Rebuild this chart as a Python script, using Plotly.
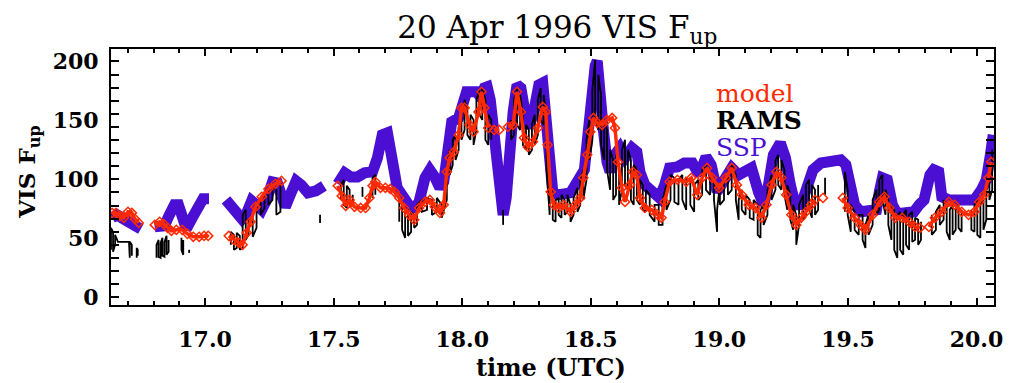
import plotly.graph_objects as go

# ---------------- data ----------------
# SSP (thick purple line); None marks a data gap
ssp_t = [16.638, 16.657, 16.688, 16.723, 16.750, None,
         16.804, 16.842, 16.861, 16.881, 16.896, 16.911, 16.927, 16.950, 16.973, 16.992, 17.015, None,
         17.081, 17.112, 17.143, 17.162, 17.181, 17.200, 17.220, 17.239, 17.262, 17.281, 17.296, 17.312,
         17.331, 17.354, 17.374, 17.400, 17.431, 17.462, None,
         17.516, 17.543, 17.566, 17.593, 17.620, 17.651, 17.670, 17.689, 17.709, 17.720, 17.736, 17.747,
         17.774, 17.797, 17.816, 17.832, 17.855, 17.874, 17.893, 17.913, 17.928, 17.947, 17.959, 17.986,
         18.005, 18.017, 18.055, 18.071, 18.086, 18.097, 18.109, 18.121, 18.132, 18.144, 18.159, 18.171,
         18.182, 18.198, 18.213, 18.228, 18.248, 18.259, 18.278, 18.298, 18.313, 18.325, 18.336, 18.352,
         18.371, 18.394, 18.421, 18.440, 18.459, 18.475, 18.490, 18.506, 18.517, 18.525, 18.537, 18.548,
         18.563, 18.575, 18.594, 18.613, 18.633, 18.660, 18.679, 18.691, 18.710, 18.737, 18.767, 18.787,
         18.806, 18.837, 18.864, 18.895, 18.922, 18.948, 18.968, 18.991, 19.025, 19.048, 19.075, 19.102,
         19.125, 19.152, 19.172, 19.191, 19.210, 19.237, 19.257, 19.276, 19.295, 19.318, 19.337, 19.364,
         19.395, 19.434, 19.472, 19.492, 19.507, 19.526, 19.549, 19.588, 19.611, 19.622, 19.634, 19.653,
         19.673, 19.692, 19.723, 19.757, 19.777, 19.796, 19.819, 19.834, 19.853, 19.865, 19.892, 19.942,
         19.992, 20.019, 20.038, 20.054, 20.065]
ssp_v = [67.4, 70.0, 65.7, 60.6, 58.0, None,
         59.7, 60.6, 69.9, 78.4, 78.4, 67.4, 58.1, 67.4, 78.4, 83.5, 83.5, None,
         82.6, 74.2, 66.5, 71.6, 81.8, 78.4, 74.2, 82.6, 97.9, 97.0, 86.9, 76.7,
         86.9, 98.7, 95.3, 88.6, 90.3, 94.5, None,
         96.2, 105.5, 102.1, 102.1, 105.5, 106.4, 118.2, 137.7, 139.4, 129.2, 106.4, 92.8,
         84.3, 76.7, 75.8, 80.9, 101.3, 108.1, 102.1, 92.8, 97.9, 129.2, 148.7, 152.1,
         169.1, 174.2, 174.2, 169.9, 177.5, 178.4, 167.4, 143.6, 106.4, 78.4, 69.9, 84.3,
         120.8, 157.2, 180.1, 177.5, 152.1, 143.6, 157.2, 180.1, 181.8, 157.2, 114.8, 89.4,
         86.9, 86.9, 88.6, 95.3, 103.0, 108.1, 140.3, 180.1, 196.2, 200.4, 180.1, 143.6,
         114.8, 106.4, 120.8, 126.7, 118.2, 126.7, 123.3, 106.4, 95.3, 89.4, 84.3, 95.3,
         109.7, 110.6, 113.9, 113.9, 103.8, 119.1, 112.3, 89.4, 101.3, 109.7, 103.8, 106.4,
         109.7, 89.4, 78.4, 95.3, 120.8, 130.9, 118.2, 95.3, 78.4, 78.4, 92.8, 108.1,
         113.9, 114.8, 116.5, 112.3, 95.3, 78.4, 72.5, 73.3, 74.2, 89.4, 101.3, 99.6,
         78.4, 70.8, 72.5, 72.5, 78.4, 82.6, 103.8, 108.1, 106.4, 85.2, 82.6, 82.6,
         82.6, 91.1, 99.6, 120.8, 137.7]

# model (red diamonds)
model_t = [16.638, 16.653, 16.669, 16.684, 16.700, 16.715, 16.727, 16.742, None,
           16.804, 16.823, 16.838, 16.854, 16.869, 16.888, 16.911, 16.931, 16.954, 16.977, 16.996, 17.012, None,
           17.092, 17.112, 17.131, 17.146, 17.162, 17.177, 17.196, 17.220, 17.246, 17.273, 17.297, None,
           17.516, 17.531, 17.547, 17.562, 17.581, 17.605, 17.624, 17.639, 17.651, 17.662, 17.682, 17.701,
           17.720, 17.736, 17.755, 17.774, 17.793, 17.813, 17.832, 17.855, 17.874, 17.893, 17.913, 17.928,
           17.940, 17.951, 17.967, 17.986, 17.997, 18.009, 18.028, 18.044, 18.063, 18.075, 18.086, 18.101, None,
           18.124, 18.144, None,
           18.178, 18.198, 18.213, 18.228, 18.240, 18.255, 18.275, 18.294, 18.313, 18.325, 18.332, 18.344,
           18.356, 18.375, 18.394, 18.421, 18.440, 18.459, 18.471, 18.486, 18.498, 18.510, 18.525, 18.544,
           18.563, 18.583, 18.594, 18.606, 18.621, 18.633, 18.652, 18.663, 18.679, 18.691, 18.710, 18.737,
           18.760, 18.775, 18.787, 18.806, 18.837, 18.871, 18.891, 18.914, 18.933, 18.952, 18.972, 18.999,
           19.025, 19.048, 19.068, 19.087, 19.114, 19.141, 19.164, 19.183, 19.203, 19.222, 19.241, 19.260,
           19.280, 19.299, 19.318, 19.337, 19.357, 19.372, None,
           19.403, None,
           19.480, 19.499, 19.526, 19.549, 19.568, 19.596, 19.622, 19.642, 19.661, 19.684, 19.711, 19.738,
           19.761, 19.780, None,
           19.815, 19.838, 19.865, 19.892, 19.915, 19.942, 19.969, 19.992, 20.011, 20.030, 20.046, 20.057]
model_v = [71.6, 71.6, 69.1, 67.4, 72.5, 71.6, 66.5, 63.1, None,
           61.4, 64.0, 62.3, 58.9, 56.4, 57.2, 57.2, 53.8, 51.3, 51.3, 52.1, 52.1, None,
           52.1, 48.7, 46.2, 44.5, 54.7, 64.0, 76.7, 85.2, 91.9, 96.2, 98.7, None,
           94.5, 86.0, 77.5, 82.6, 76.7, 75.8, 75.8, 84.3, 94.5, 97.9, 92.8, 92.8,
           91.9, 89.4, 84.3, 75.8, 69.9, 65.7, 75.8, 80.9, 82.6, 76.7, 71.6, 78.4,
           106.4, 118.2, 123.3, 137.7, 160.6, 160.6, 146.2, 140.3, 157.2, 174.2, 160.6, 143.6, None,
           141.9, 141.9, None,
           144.5, 146.2, 174.2, 157.2, 135.2, 127.5, 131.8, 143.6, 161.4, 157.2, 129.2, 89.4,
           78.4, 75.8, 78.4, 72.5, 78.4, 84.3, 101.3, 120.8, 140.3, 152.1, 147.9, 146.2,
           150.4, 152.1, 143.6, 114.8, 92.8, 80.9, 95.3, 106.4, 103.8, 84.3, 75.8, 74.2,
           69.9, 67.4, 80.9, 97.9, 99.6, 97.9, 101.3, 86.9, 101.3, 109.7, 101.3, 92.8,
           101.3, 109.7, 95.3, 86.9, 78.4, 75.8, 67.4, 78.4, 95.3, 106.4, 101.3, 86.9,
           69.9, 61.4, 67.4, 72.5, 78.4, 82.6, None,
           84.3, None,
           84.3, 75.8, 67.4, 61.4, 57.2, 69.9, 80.9, 85.2, 75.8, 67.4, 67.4, 64.0,
           59.7, 58.9, None,
           59.7, 67.4, 72.5, 80.9, 78.4, 72.5, 69.9, 72.5, 80.9, 86.9, 101.3, 114.8]

# RAMS (black, noisy): time, low and high of each vertical excursion; None = gap
rams_t = [16.634, 16.642, 16.650, 16.661, 16.684, 16.704, 16.707, 16.715, None,
          16.734, 16.738, None,
          16.811, 16.819, 16.827, 16.834, 16.842, 16.850, 16.858, None,
          16.908, 16.915, None, 16.938, None,
          17.100, 17.112, 17.123, 17.135, 17.146, 17.158, 17.169, 17.185, 17.200, 17.216, 17.231, 17.246,
          17.262, 17.277, 17.293, None, 17.447, None,
          17.528, 17.539, 17.551, 17.562, 17.574, None, 17.612, None, 17.651, 17.662, None,
          17.755, 17.766, 17.778, 17.789, 17.801, 17.813, 17.824, 17.843, 17.863, 17.882, 17.901, 17.920,
          17.940, 17.951, 17.963, 17.974, 17.986, 17.997, 18.009, 18.020, 18.032, 18.044, 18.055, 18.067,
          18.078, 18.090, 18.101, 18.113, None, 18.159, None,
          18.190, 18.201, 18.213, 18.225, 18.236, 18.248, 18.259, 18.271, 18.282, 18.294, 18.305, 18.317,
          18.328, 18.340, 18.352, 18.363, 18.375, 18.386, 18.398, 18.409, 18.421, 18.433, 18.448, 18.459,
          18.471, 18.483, 18.494, 18.506, 18.517, 18.529, 18.540, 18.552, 18.563, 18.575, 18.587, 18.598,
          18.610, 18.621, 18.633, 18.644, 18.656, 18.667, 18.679, 18.691, 18.702, 18.714, 18.729, 18.748,
          18.764, 18.779, 18.794, 18.810, 18.825, 18.841, 18.856, 18.871, 18.887, 18.902, 18.918, 18.933,
          18.948, 18.964, 18.979, 18.991, 19.002, 19.018, 19.033, 19.048, 19.064, 19.075, 19.087, 19.102,
          19.118, 19.133, 19.149, 19.160, 19.172, 19.187, 19.203, 19.218, 19.229, 19.241, 19.253, 19.264,
          19.276, 19.287, 19.299, 19.310, 19.326, 19.337, 19.349, 19.360, 19.372, 19.384, None,
          19.411, None,
          19.488, 19.499, 19.511, 19.526, 19.542, 19.557, 19.568, 19.580, 19.596, 19.611, 19.622, 19.634,
          19.646, 19.657, 19.669, 19.680, 19.692, 19.703, 19.715, 19.726, 19.738, 19.750, 19.761, 19.773,
          19.784, None,
          19.826, 19.842, 19.857, 19.872, 19.884, 19.896, 19.907, 19.919, 19.930, 19.942, None,
          19.980, 19.992, 20.003, 20.015, 20.027, 20.038, 20.050, 20.061]
rams_lo = [40.3, 38.6, 44.5, 47.0, 47.0, 47.0, 33.5, 35.2, None,
           33.5, 35.2, None,
           33.5, 34.3, 33.5, 35.2, 34.3, 36.0, 38.6, None,
           40.3, 36.0, None, 37.7, None,
           44.5, 40.3, 41.9, 40.3, 41.9, 48.7, 53.0, 51.3, 58.9, 69.9, 75.8, 78.4,
           82.6, 69.9, 72.5, None, 63.1, None,
           82.6, 78.4, 75.8, 76.7, 78.4, None, 85.2, None, 84.3, 86.9, None,
           64.0, 57.2, 50.4, 52.1, 55.5, 58.9, 61.4, 72.5, 74.2, 69.9, 72.5, 67.4,
           82.6, 103.8, 112.3, 116.5, 125.0, 133.5, 141.9, 137.7, 133.5, 129.2, 141.9, 154.7,
           150.4, 133.5, 129.2, 133.5, None, 61.4, None,
           133.5, 137.7, 146.2, 141.9, 129.2, 125.0, 120.8, 125.0, 129.2, 137.7, 150.4, 146.2,
           108.1, 69.9, 65.7, 64.0, 69.9, 67.4, 69.9, 72.5, 64.0, 69.9, 72.5, 78.4,
           82.6, 99.6, 116.5, 133.5, 150.4, 141.9, 129.2, 116.5, 108.1, 91.1, 82.6, 86.9,
           78.4, 91.1, 95.3, 91.1, 82.6, 78.4, 82.6, 78.4, 74.2, 72.5, 69.9, 64.0,
           61.4, 61.4, 74.2, 82.6, 80.9, 78.4, 82.6, 74.2, 78.4, 72.5, 82.6, 86.9,
           91.1, 86.9, 82.6, 55.5, 78.4, 82.6, 86.9, 91.1, 82.6, 65.7, 74.2, 69.9,
           67.4, 65.7, 53.0, 50.4, 61.4, 69.9, 82.6, 91.1, 95.3, 91.1, 86.9, 74.2,
           65.7, 57.2, 44.5, 61.4, 65.7, 69.9, 74.2, 67.4, 69.9, 74.2, None,
           86.9, None,
           72.5, 69.9, 55.5, 57.2, 53.0, 48.7, 41.9, 53.0, 61.4, 69.9, 74.2, 82.6,
           69.9, 61.4, 48.7, 40.3, 33.5, 40.3, 36.0, 44.5, 40.3, 47.0, 48.7, 44.5,
           48.7, None,
           53.0, 57.2, 61.4, 65.7, 55.5, 48.7, 53.0, 57.2, 58.9, 55.5, None,
           57.2, 55.5, 53.0, 50.4, 57.2, 65.7, 82.6, 91.1]
rams_hi = [58.9, 55.5, 53.0, 47.0, 47.0, 47.0, 47.0, 44.5, None,
           41.9, 40.3, None,
           44.5, 48.7, 46.2, 50.4, 47.0, 52.1, 48.7, None,
           50.4, 48.7, None, 40.3, None,
           55.5, 53.0, 54.7, 52.1, 69.9, 74.2, 65.7, 68.2, 78.4, 82.6, 86.9, 91.1,
           94.5, 91.1, 95.3, None, 69.9, None,
           95.3, 99.6, 94.5, 91.1, 86.9, None, 93.6, None, 101.3, 103.8, None,
           82.6, 78.4, 75.8, 74.2, 72.5, 69.9, 78.4, 82.6, 84.3, 82.6, 84.3, 78.4,
           108.1, 125.0, 133.5, 137.7, 143.6, 160.6, 167.4, 158.9, 154.7, 150.4, 167.4, 175.8,
           177.5, 167.4, 154.7, 150.4, None, 74.2, None,
           150.4, 167.4, 177.5, 171.6, 154.7, 146.2, 141.9, 146.2, 154.7, 167.4, 177.5, 171.6,
           150.4, 99.6, 86.9, 82.6, 84.3, 86.9, 82.6, 86.9, 78.4, 84.3, 92.8, 99.6,
           108.1, 133.5, 150.4, 175.8, 201.3, 188.6, 171.6, 150.4, 141.9, 125.0, 116.5, 120.8,
           112.3, 125.0, 133.5, 125.0, 116.5, 112.3, 108.1, 99.6, 95.3, 91.1, 86.9, 78.4,
           78.4, 82.6, 95.3, 103.8, 101.3, 99.6, 103.8, 101.3, 99.6, 95.3, 99.6, 108.1,
           112.3, 103.8, 99.6, 74.2, 95.3, 99.6, 103.8, 112.3, 103.8, 82.6, 91.1, 86.9,
           82.6, 82.6, 78.4, 74.2, 78.4, 91.1, 103.8, 116.5, 120.8, 116.5, 108.1, 95.3,
           86.9, 78.4, 69.9, 78.4, 86.9, 95.3, 99.6, 95.3, 91.1, 95.3, None,
           101.3, None,
           106.4, 91.1, 78.4, 72.5, 69.9, 69.9, 61.4, 69.9, 82.6, 91.1, 99.6, 103.8,
           91.1, 82.6, 78.4, 74.2, 69.9, 72.5, 69.9, 74.2, 69.9, 72.5, 67.4, 65.7,
           64.0, None,
           69.9, 72.5, 78.4, 82.6, 78.4, 74.2, 78.4, 74.2, 78.4, 74.2, None,
           74.2, 78.4, 82.6, 78.4, 82.6, 91.1, 108.1, 125.0]

x_ticks = [17.0, 17.5, 18.0, 18.5, 19.0, 19.5, 20.0]
y_ticks = [0, 50, 100, 150, 200]
legend_labels = ["model", "RAMS", "SSP"]

# ---------------- styling ----------------
RED = "#ff2a00"
PURPLE = "#4a0fd2"
SERIF = "DejaVu Serif"

# build the RAMS zig-zag path (vertical strokes between low and high)
rx, ry = [], []
k = 0
for t, lo, hi in zip(rams_t, rams_lo, rams_hi):
    if t is None:
        rx.append(None); ry.append(None)
        continue
    rx += [t, t]
    ry += ([lo, hi] if k % 2 == 0 else [hi, lo])
    k += 1

fig = go.Figure()
fig.add_trace(go.Scatter(x=ssp_t, y=ssp_v, mode="lines", name="SSP",
                         line=dict(color=PURPLE, width=11), connectgaps=False))
fig.add_trace(go.Scatter(x=rx, y=ry, mode="lines", name="RAMS",
                         line=dict(color="black", width=1.8), connectgaps=False))
fig.add_trace(go.Scatter(x=model_t, y=model_v, mode="lines+markers", name="model",
                         line=dict(color=RED, width=3.5),
                         marker=dict(symbol="diamond-open", size=7, color=RED, line=dict(width=1.5, color=RED)),
                         connectgaps=False))

axis_common = dict(showline=True, linewidth=2, linecolor="black", mirror="allticks",
                   ticks="inside", tickcolor="black", showgrid=False, zeroline=False,
                   ticklabeloverflow="allow",
                   tickfont=dict(family=SERIF, size=22, color="black", weight="bold"))

fig.update_xaxes(range=[16.634, 20.068], tickvals=x_ticks, ticktext=[f"{v:.1f}" for v in x_ticks],
                 ticklen=7, tickwidth=1.5, ticklabelstandoff=14,
                 minor=dict(dtick=0.1, tick0=17.0, ticks="inside", ticklen=4, tickcolor="black", tickwidth=1.5),
                 **axis_common)
fig.update_yaxes(range=[-6.5, 210.5], tickvals=y_ticks, ticktext=[str(v) for v in y_ticks],
                 ticklen=0, tickwidth=1.5, ticklabelstandoff=6,
                 minor=dict(dtick=200 / 18, tick0=0, ticks="inside", ticklen=8, tickcolor="black", tickwidth=1.5),
                 **axis_common)

fig.add_annotation(text="VIS F<sub>up</sub>", xref="paper", yref="paper", x=-0.093, y=0.52,
                   textangle=-90, showarrow=False, xanchor="center", yanchor="middle",
                   font=dict(family=SERIF, size=23, color="black", weight="bold"))
fig.add_annotation(text="time (UTC)", xref="paper", yref="paper", x=0.498, y=-0.245,
                   showarrow=False, xanchor="center", yanchor="middle",
                   font=dict(family=SERIF, size=24, color="black", weight="bold"))

leg_colors = [RED, "black", PURPLE]
leg_y = [172.5, 149.6, 126.7]
for lab, col, yy in zip(legend_labels, leg_colors, leg_y):
    fig.add_annotation(text=lab, x=18.979, y=yy, xref="x", yref="y", showarrow=False,
                       xanchor="left", yanchor="middle",
                       font=dict(family=SERIF, size=25, color=col, weight=("bold" if col == "black" else "normal")))

# the page body has an 8px margin, so the figure is sized/offset to land the plot box
# at the reference position (x 111..1003, y 49..305 in the 1014x383 window)
fig.update_layout(
    width=1006, height=375,
    margin=dict(l=103, r=11, t=41, b=78),
    paper_bgcolor="white", plot_bgcolor="white",
    showlegend=False,
    title=dict(text="20 Apr 1996 VIS F<sub>up</sub>", x=0.546, xanchor="center",
               y=0.950, yanchor="middle", yref="container",
               font=dict(family=SERIF, size=31, color="black")),
)

fig.write_html("out.html")
